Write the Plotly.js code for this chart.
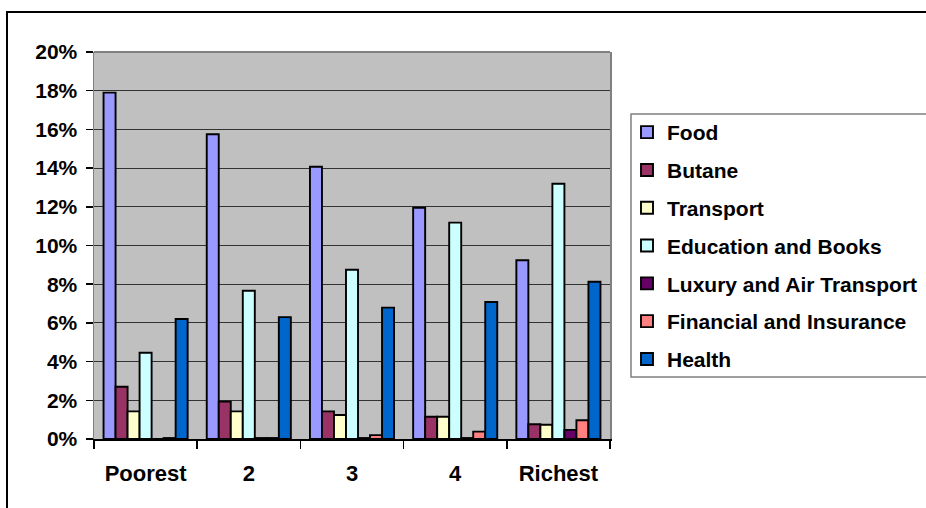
<!DOCTYPE html>
<html>
<head>
<meta charset="utf-8">
<script src="https://cdn.plot.ly/plotly-3.0.1.min.js"></script>
<style>html,body{margin:0;padding:0;background:#fff;}#chart{width:926px;height:508px;}</style>
</head>
<body>
<div id="chart"></div>
<script>
var categories = ['Poorest', '2', '3', '4', 'Richest'];
var seriesNames = ['Food', 'Butane', 'Transport', 'Education and Books', 'Luxury and Air Transport', 'Financial and Insurance', 'Health'];
var food      = [17.9, 15.75, 14.07, 11.95, 9.24];
var butane    = [2.7, 1.93, 1.43, 1.15, 0.76];
var transport = [1.43, 1.43, 1.24, 1.15, 0.74];
var education = [4.46, 7.66, 8.75, 11.18, 13.19];
var luxury    = [0, 0.05, 0.05, 0.05, 0.47];
var financial = [0.05, 0.05, 0.2, 0.38, 0.97];
var health    = [6.2, 6.3, 6.79, 7.08, 8.13];
var yTicks = [0, 2, 4, 6, 8, 10, 12, 14, 16, 18, 20];

var values = [food, butane, transport, education, luxury, financial, health];
var colors = ['#9999FF', '#993366', '#FFFFCC', '#CCFFFF', '#660066', '#FF8080', '#0066CC'];

var W = 926, H = 508, L = 94, R = 610, T = 52, B = 439;
function px(x) { return (x - L) / (R - L); }
function py(y) { return (B - y) / (B - T); }

var traces = values.map(function (v, i) {
  return {
    type: 'bar',
    name: seriesNames[i],
    x: categories,
    y: v,
    legendgroup: 'g' + i,
    marker: { color: colors[i], line: { color: '#000000', width: 1.9 } },
    hoverinfo: 'name+y'
  };
});

var FONT = 'Liberation Sans, Arial, sans-serif';
var layout = {
  width: W, height: H,
  margin: { l: L, r: W - R, t: T, b: H - B, pad: 0, autoexpand: false },
  paper_bgcolor: '#ffffff',
  plot_bgcolor: '#C0C0C0',
  barmode: 'group',
  bargap: 0.185,
  bargroupgap: 0,
  font: { family: FONT, color: '#000000' },
  xaxis: {
    type: 'category',
    showline: true, linecolor: '#000000', linewidth: 1.5,
    ticks: 'outside', tickson: 'boundaries', ticklen: 8, tickcolor: '#000000', tickwidth: 1.5,
    tickfont: { size: 22, family: FONT, weight: 'bold' },
    showgrid: false, zeroline: false, automargin: false,
    ticklabelstandoff: 14
  },
  yaxis: {
    range: [0, 20],
    tickvals: yTicks,
    ticktext: yTicks.map(function (t) { return t + '%'; }),
    showline: true, linecolor: '#808080', linewidth: 1.5, mirror: true,
    ticks: 'outside', ticklen: 7, tickcolor: '#000000', tickwidth: 1.5,
    tickfont: { size: 21, family: FONT, weight: 'bold' },
    showgrid: true, gridcolor: '#333333', gridwidth: 1,
    zeroline: false, automargin: false,
    ticklabelstandoff: 4
  },
  showlegend: true,
  legend: {
    x: px(627), y: py(112), xanchor: 'left', yanchor: 'top',
    bgcolor: 'rgba(0,0,0,0)', borderwidth: 0,
    font: { size: 21, family: FONT, weight: 'bold', color: '#000000' },
    tracegroupgap: 7.5,
    traceorder: 'grouped'
  },
  shapes: [
    { type: 'line', xref: 'paper', yref: 'paper', x0: 0, x1: 1, y0: 1, y1: 1,
      line: { color: '#808080', width: 2 } },
    { type: 'rect', xref: 'paper', yref: 'paper', x0: px(631), x1: px(960), y0: py(377), y1: py(114),
      line: { color: '#808080', width: 1.5 }, fillcolor: '#ffffff', layer: 'below' },
    { type: 'rect', xref: 'paper', yref: 'paper', x0: px(7), x1: px(960), y0: py(530), y1: py(12),
      line: { color: '#000000', width: 2 }, fillcolor: 'rgba(0,0,0,0)', layer: 'below' }
  ]
};

Plotly.newPlot('chart', traces, layout, { displayModeBar: false, staticPlot: true });
</script>
</body>
</html>
